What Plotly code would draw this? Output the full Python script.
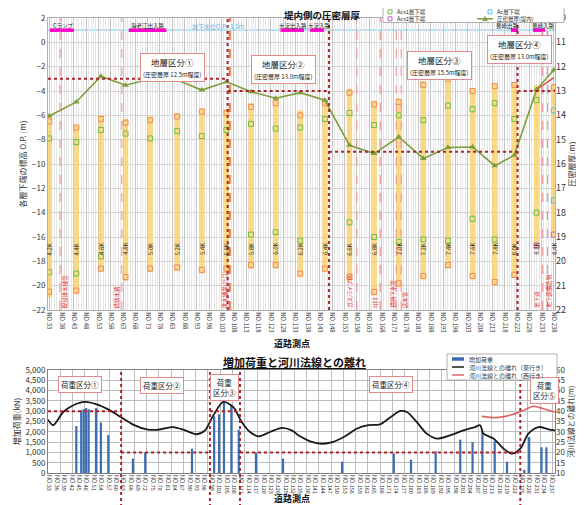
import plotly.graph_objects as go

FONT = "Noto Sans CJK JP, Noto Sans, Arial"
W, H = 584, 505
OFF = 8                     # the page body adds an 8 px margin around the figure
ML, MR = 40, 37             # plot area spans screen x 48..555

# ---------------- upper panel: layer bottoms along the road ----------------
bar_no = [33, 44, 54, 64, 74, 85, 95, 105, 115, 125, 135, 145, 155, 165, 175, 185, 195, 205, 214, 222, 231, 238]
bar_kp = ["4.2K", "4.4K", "4.6K", "4.8K", "5.0K", "5.2K", "5.4K", "5.6K", "5.8K", "6.0K", "6.2K",
          "6.4K", "6.6K", "6.8K", "7.0K", "7.2K", "7.4K", "7.6K", "7.8K", "8.0K", "8.3K", "8.4K"]
layer_top = [-5.9, -6.8, -6.0, -6.3, -6.1, -5.8, -5.4, -5.5, -5.0, -4.7, -5.6,
             -4.7, -3.8, -4.8, -4.6, -3.2, -2.8, -3.8, -3.4, -3.3, -3.5, -3.4]
layer_bottom = [-21.0, -20.7, -18.9, -19.6, -18.9, -18.8, -19.0, -18.9, -18.6, -18.6, -19.3,
                -18.9, -19.6, -20.8, -20.1, -19.5, -18.6, -19.5, -20.0, -19.4, -17.0, -16.1]
orange_upper = [-6.5, -7.0, -6.3, -6.6, -6.4, -6.1, -5.7, -5.8, -5.3, -5.0, -6.0,
                -5.0, -4.15, -5.1, -4.9, -3.5, -3.0, -4.0, -3.6, -3.5, None, -3.7]
orange_lower = [-20.5, -20.4, -18.6, -19.3, -18.6, -18.5, -18.7, -18.6, -18.3, -18.3, -19.0,
                -18.6, -19.3, -20.5, -19.8, -19.2, -18.3, -19.2, -19.7, -19.1, None, None]
acs1_upper = [-7.9, -8.2, -7.2, -7.5, -7.9, -7.3, -7.7, -7.2, -6.7, -7.1, -7.0,
              -6.3, -5.8, -6.8, -6.0, -6.4, -5.2, -5.5, -5.0, -6.3, -4.75, None]
acs1_lower = [-18.9, -19.0, -17.6, None, None, None, None, None, -15.8, -15.6, -16.3,
              None, -14.8, -16.0, -16.4, -16.2, -16.3, -14.5, -16.2, None, -14.0, None]
acs2_bottom = [None] * 20 + [-16.7, -15.8]
ac_no = [238, 238]
ac_bottom = [-5.6, -13.0]
thickness = [14.03, 13.45, 12.39, 12.76, 12.51, 12.55, 12.96, 12.62, 13.03, 13.3, 13.07,
             13.38, 15.23, 15.57, 14.89, 15.77, 15.32, 15.3, 16.07, 15.64, 12.94, 12.14]
thickness_out_no = [231, 238]
thickness_out = [12.95, 12.45]

ground_water = 1.0
ramp_names = ["Cランプ", "海老江出入路", "大淀出入路", "大淀入路", "豊崎出路", "豊崎入路"]
ramp_start = [33.3, 65.3, 127.0, 139.0, 220.6, 229.6]
ramp_end = [43.0, 80.6, 136.5, 144.6, 223.5, 234.4]
ramp_label_no = [38.5, 73.0, 132.0, 143.0, 219.0, 234.0]

strata_bounds = [32.5, 105.5, 146.7, 223.3, 238.5]
strata_thick = [12.5, 13.0, 15.5, 13.0]
strata_labels = ["地層区分①<br><span style='font-size:6px'>(圧密層厚 12.5m程度)</span>",
                 "地層区分②<br><span style='font-size:6px'>(圧密層厚 13.0m程度)</span>",
                 "地層区分③<br><span style='font-size:6px'>(圧密層厚 15.5m程度)</span>",
                 "地層区分④<br><span style='font-size:6px'>(圧密層厚 13.0m程度)</span>"]
strata_label_no = [82.9, 128.0, 191.7, 224.2]
strata_label_y = [-2.1, -2.2, -1.9, -0.55]

obstacle_no = [37.4, 62.5, 158, 167.5, 174, 176, 233.5, 235.5]
note_no = [39.5, 60.5, 104.3, 155, 165.5, 172.5, 177.5, 231, 236]
note_text = ["既設排水樋管", "横断水路", "排水機場(吐口)", "ガスパイプ(K)", "NTT",
             "横断下水管", "送水管", "地下道", "地下鉄構造物"]

# ---------------- lower panel: added load and river distance ----------------
load_no = [44, 46, 47, 48, 49, 52, 54, 57, 67, 72, 91, 100, 102, 104, 107, 110, 117, 128,
           152, 173, 180, 190, 200, 205, 209, 214, 219, 226, 228, 233, 235]
load_kn = [2280, 3050, 3100, 3150, 3100, 3150, 2450, 1850, 700, 1000, 1180, 2750, 2850, 3450,
           3250, 2100, 1000, 700, 550, 950, 650, 1050, 1620, 1500, 2000, 1550, 550, 150, 1750,
           1250, 1250]
east_no = [32.5, 34.6, 38.7, 42.8, 47.5, 52.3, 57.7, 62.4, 67.1, 72.6, 77.3, 83.4, 88.2, 92.9,
           96.3, 99.7, 103.7, 107.8, 111.2, 114.6, 118, 122.7, 127.5, 131.5, 134.9, 139, 143.7,
           148.4, 153.2, 157.9, 162.7, 167.4, 171.5, 175.6, 178.3, 182.3, 186.4, 190.5, 195.9,
           201.3, 206, 208.1, 209.4, 213.5, 217.6, 221, 224.4, 227.7, 231.8, 235.8, 238.5]
east_m = [35.9, 33.2, 39.6, 42.9, 44.5, 43.3, 40.4, 36.9, 33.5, 31.2, 31.0, 32.3, 30.7, 28.8,
          30.7, 38.0, 44.5, 42.0, 34.8, 29.9, 27.8, 29.9, 31.9, 30.7, 27.8, 25.4, 24.2,
          25.1, 27.8, 31.5, 33.2, 33.6, 36.9, 40.1, 39.6, 34.8, 29.1, 26.7, 28.3,
          30.7, 32.3, 33.2, 29.1, 26.7, 21.8, 19.4, 21.8, 29.1, 32.3, 31.2, 30.7]
west_no = [208.7, 214.8, 220.2, 225.7, 229.7, 233.8, 238.5]
west_m = [37.5, 36.9, 38.0, 40.4, 42.4, 41.2, 39.6]

load_bounds = [32.5, 62.2, 98.3, 110.5, 224.4]
load_levels = [3000, 1000, 3000, 1000]
load_labels = ["荷重区分①", "荷重区分②", "荷重<br>区分③", "荷重区分④", "荷重<br>区分⑤"]
load_label_no = [45.5, 78.8, 104.4, 171.8, 234.4]
load_label_kn = [4300, 4260, 4160, 4300, 4010]

top_ticks = list(range(33, 239, 5))
bot_ticks = list(range(33, 238, 3))


def px(x):
    # screen pixel -> paper fraction
    return (x - OFF - ML) / (W - ML - MR)


def py(y):
    return 1 - (y - OFF) / H


fig = go.Figure()

# ---- upper traces
fig.add_trace(go.Bar(
    x=bar_no, y=[t - b for t, b in zip(layer_top, layer_bottom)], base=layer_bottom,
    width=2.2, marker=dict(color="rgba(250,208,105,0.78)", line_width=0),
    xaxis="x", yaxis="y", showlegend=False, hoverinfo="skip"))
sq = dict(symbol="square-open", size=5, line=dict(width=1))
fig.add_trace(go.Scatter(x=bar_no + bar_no, y=orange_upper + orange_lower, mode="markers",
                         marker=dict(sq, color="#F0895A"), xaxis="x", yaxis="y", showlegend=False))
fig.add_trace(go.Scatter(x=bar_no + bar_no, y=acs1_upper + acs1_lower, mode="markers",
                         marker=dict(sq, color="#6DBE45"), xaxis="x", yaxis="y", showlegend=False))
fig.add_trace(go.Scatter(x=bar_no, y=acs2_bottom, mode="markers",
                         marker=dict(sq, color="#C95FC9"), xaxis="x", yaxis="y", showlegend=False))
fig.add_trace(go.Scatter(x=ac_no, y=ac_bottom, mode="markers",
                         marker=dict(sq, color="#4FC1E9"), xaxis="x", yaxis="y", showlegend=False))

ramp_x, ramp_y = [], []
for s, e in zip(ramp_start, ramp_end):
    ramp_x += [s, e, None]
    ramp_y += [ground_water, ground_water, None]
fig.add_trace(go.Scatter(x=ramp_x, y=ramp_y, mode="lines", line=dict(color="#FF00CC", width=3.5),
                         xaxis="x", yaxis="y", showlegend=False))

fig.add_trace(go.Scatter(x=thickness_out_no, y=thickness_out, mode="lines",
                         line=dict(color="#E0403A", width=1.3), xaxis="x", yaxis="y2", showlegend=False))
fig.add_trace(go.Scatter(x=bar_no, y=thickness, mode="lines+markers",
                         line=dict(color="#7E9C3C", width=1.6),
                         marker=dict(symbol="triangle-up", size=6, color="#7E9C3C"),
                         xaxis="x", yaxis="y2", showlegend=False))

# ---- lower traces
fig.add_trace(go.Bar(x=load_no, y=load_kn, width=0.9, marker=dict(color="#3D6EB4", line_width=0),
                     xaxis="x2", yaxis="y3", showlegend=False))
fig.add_trace(go.Scatter(x=east_no, y=east_m, mode="lines",
                         line=dict(color="#1A1A1A", width=1.8, shape="spline", smoothing=0.8),
                         xaxis="x2", yaxis="y4", showlegend=False))
fig.add_trace(go.Scatter(x=west_no, y=west_m, mode="lines",
                         line=dict(color="#E06666", width=1.6, shape="spline", smoothing=0.8),
                         xaxis="x2", yaxis="y4", showlegend=False))

shapes = []
DR = "#A8262B"
shapes.append(dict(type="line", xref="x", yref="y", x0=32.5, x1=238.5, y0=ground_water, y1=ground_water,
                   line=dict(color="#7EC8F0", width=1.2), layer="below"))
for n in obstacle_no:
    shapes.append(dict(type="line", xref="x", yref="y", x0=n, x1=n, y0=-22, y1=2,
                       line=dict(color="#F08C8C", width=1, dash="dash")))
shapes.append(dict(type="line", xref="x", yref="y", x0=106.4, x1=106.4, y0=-22, y1=2,
                   line=dict(color="#F07830", width=1.8, dash="dash")))
for b in strata_bounds[1:-1]:
    shapes.append(dict(type="line", xref="x", yref="y", x0=b, x1=b, y0=-22, y1=2,
                       line=dict(color=DR, width=2, dash="dot")))
for i, t in enumerate(strata_thick):
    shapes.append(dict(type="line", xref="x", yref="y2", x0=strata_bounds[i], x1=strata_bounds[i + 1],
                       y0=t, y1=t, line=dict(color=DR, width=2, dash="dot")))
for b in load_bounds[1:]:
    shapes.append(dict(type="line", xref="x2", yref="paper", x0=b, x1=b, y0=0, y1=py(370),
                       line=dict(color=DR, width=2, dash="dot")))
for i, lv in enumerate(load_levels):
    shapes.append(dict(type="line", xref="x2", yref="y3", x0=load_bounds[i], x1=load_bounds[i + 1],
                       y0=lv, y1=lv, line=dict(color=DR, width=2, dash="dot")))

ann = []
box = dict(bgcolor="white", bordercolor="#E08A8A", borderwidth=1, borderpad=2)
for t, n, y in zip(strata_labels, strata_label_no, strata_label_y):
    ann.append(dict(xref="x", yref="y", x=n, y=y, text=t, showarrow=False,
                    font=dict(size=8.5, color="#222"), **box))
for t, n, y in zip(load_labels, load_label_no, load_label_kn):
    ann.append(dict(xref="x2", yref="y3", x=n, y=y, text=t, showarrow=False,
                    font=dict(size=7.5, color="#222"), **box))
for n, kp in zip(bar_no, bar_kp):
    ann.append(dict(xref="x", yref="y", x=n, y=-17, text=kp, textangle=-90, showarrow=False,
                    font=dict(size=6, color="#333")))
for name, n in zip(ramp_names, ramp_label_no):
    ann.append(dict(xref="x", yref="y", x=n, y=ground_water, yshift=4, text=name,
                    showarrow=False, font=dict(size=5.5, color="#222")))
ann.append(dict(xref="x", yref="y", x=101.5, y=ground_water, yshift=4, text="地下水位O.P.+1.0m",
                showarrow=False, font=dict(size=6, color="#5BB8E8")))
for n, t in zip(note_no, note_text):
    ann.append(dict(xref="x", yref="y", x=n, y=-22, yanchor="bottom", text=t, textangle=-90,
                    showarrow=False, font=dict(size=5.5, color="#E8303A")))


def paper_text(x, y, text, size, xanchor="center", color="#111"):
    ann.append(dict(xref="paper", yref="paper", x=px(x), y=py(y), xanchor=xanchor, yanchor="middle",
                    text=text, showarrow=False, font=dict(size=size, color=color)))


paper_text(322, 14.5, "<b>堤内側の圧密層厚</b>", 9.5)
paper_text(292, 343, "<b>道路測点</b>", 9)
paper_text(294, 362, "<b><u>増加荷重と河川法線との離れ</u></b>", 11)
paper_text(292, 498, "<b>道路測点</b>", 9)

# legend of the upper panel
shapes.append(dict(type="rect", xref="paper", yref="paper", x0=px(383), x1=px(564), y0=py(22.5), y1=py(6),
                   fillcolor="white", line=dict(color="#A0A0A0", width=0.8), layer="above"))
legend_top = [("Acs1層下端", 390, 11.8, "#6DBE45", "sq"), ("Ac層下端", 490, 11.8, "#4FC1E9", "sq"),
              ("Acs2層下端", 390, 18.8, "#C95FC9", "sq"), ("圧密層厚(堤内)", 485, 18.8, "#7E9C3C", "line")]
for name, lx, ly, col, kind in legend_top:
    if kind == "sq":
        shapes.append(dict(type="rect", xref="paper", yref="paper", x0=px(lx - 2), x1=px(lx + 2),
                           y0=py(ly + 2), y1=py(ly - 2), line=dict(color=col, width=1), layer="above"))
        tx = lx + 5
    else:
        shapes.append(dict(type="line", xref="paper", yref="paper", x0=px(lx - 8), x1=px(lx + 8),
                           y0=py(ly), y1=py(ly), line=dict(color=col, width=1.5), layer="above"))
        shapes.append(dict(type="path", xref="paper", yref="paper",
                           path=f"M {px(lx - 2.5)} {py(ly + 2)} L {px(lx + 2.5)} {py(ly + 2)} L {px(lx)} {py(ly - 2.5)} Z",
                           fillcolor=col, line=dict(color=col, width=0.5), layer="above"))
        tx = lx + 10
    paper_text(tx, ly, name, 5.5, xanchor="left", color="#333")

# legend of the lower panel
shapes.append(dict(type="rect", xref="paper", yref="paper", x0=px(447), x1=px(557), y0=py(380), y1=py(354),
                   fillcolor="white", line=dict(color="#A0A0A0", width=0.8), layer="above"))
legend_bot = [("増加荷重", 359, "#3D6EB4", 3.5), ("河川法線との離れ（東行き）", 367, "#1A1A1A", 1.5),
              ("河川法線との離れ（西行き）", 375, "#E06666", 1.5)]
for name, ly, col, lw in legend_bot:
    shapes.append(dict(type="line", xref="paper", yref="paper", x0=px(452), x1=px(464), y0=py(ly), y1=py(ly),
                       line=dict(color=col, width=lw), layer="above"))
    paper_text(467, ly, name, 6, xanchor="left", color="#333")

fig.update_layout(
    width=W, height=H, margin=dict(l=ML, r=MR, t=0, b=0, autoexpand=False),
    paper_bgcolor="white", plot_bgcolor="white",
    font=dict(family=FONT, size=8, color="#333"),
    barmode="overlay", showlegend=False,
    shapes=shapes, annotations=ann,
    xaxis=dict(domain=[0, 1], anchor="y", range=[32.5, 238.5], tickmode="array", tickvals=top_ticks,
               ticktext=[f"NO.{n}" for n in top_ticks], tickangle=90, tickfont=dict(size=6),
               showgrid=True, gridcolor="#C4C4C4", gridwidth=0.6, zeroline=False, automargin=False,
               minor=dict(tick0=33, dtick=1, showgrid=True, gridcolor="#E6E6E6", gridwidth=0.5),
               showline=True, linecolor="#B0B0B0", mirror=True, ticks=""),
    yaxis=dict(domain=[py(310), py(18)], anchor="x", range=[-22, 2], dtick=2, tickfont=dict(size=8),
               gridcolor="#D4D4D4", zeroline=False, showline=True, linecolor="#B0B0B0", mirror=True,
               automargin=False,
               title=dict(text="各層下端の標高 O.P. (m)", font=dict(size=8), standoff=4)),
    yaxis2=dict(overlaying="y", side="right", anchor="x", range=[22, 10], dtick=1, tickfont=dict(size=9),
                showgrid=False, zeroline=False, automargin=False,
                title=dict(text="圧密層厚(m)", font=dict(size=8), standoff=2)),
    xaxis2=dict(domain=[0, 1], anchor="y3", range=[32.5, 238.5], tickmode="array", tickvals=bot_ticks,
                ticktext=[f"NO.{n}" for n in bot_ticks], tickangle=90, tickfont=dict(size=5.5),
                showgrid=False, zeroline=False, automargin=False,
                minor=dict(tick0=32.5, dtick=5, showgrid=True, gridcolor="#BDBDBD", gridwidth=0.7),
                showline=True, linecolor="#7F7F7F", mirror=True, ticks=""),
    yaxis3=dict(domain=[py(473), py(370)], anchor="x2", range=[0, 5000], dtick=500, tickformat=",",
                tickfont=dict(size=8), gridcolor="#BDBDBD", zeroline=False, automargin=False,
                showline=True, linecolor="#7F7F7F", mirror=True,
                title=dict(text="増加荷重(kN)", font=dict(size=8), standoff=3)),
    yaxis4=dict(overlaying="y3", side="right", anchor="x2", range=[10, 60], dtick=5, tickfont=dict(size=8),
                showgrid=False, zeroline=False, automargin=False,
                title=dict(text="河川法線との離れ(m)", font=dict(size=7.5), standoff=2)),
)

fig.write_html("out.html")
